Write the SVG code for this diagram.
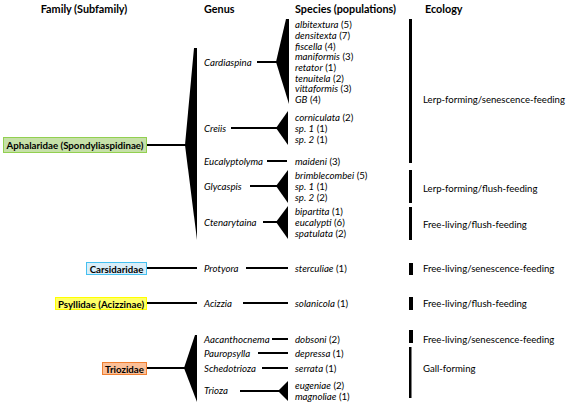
<svg xmlns="http://www.w3.org/2000/svg" width="567" height="405" viewBox="0 0 567 405">
<style>
text{font-family:Lato,"Open Sans","Liberation Sans",sans-serif;font-size:9.7px;fill:#000;dominant-baseline:central}
.h{font-weight:bold;font-size:10.8px}
.f{font-weight:bold;font-size:9.7px;text-anchor:middle}
.g{font-style:italic}
.i{font-style:italic}
.e{font-size:9.6px}
.ln{stroke:#000;stroke-width:2;fill:none}
.tri{fill:#000}
.bar{fill:#000}
</style>
<rect width="567" height="405" fill="#fff"/>
<g id="headers">
<text class="h" x="84" y="8" text-anchor="middle">Family (Subfamily)</text>
<text class="h" x="204" y="8">Genus</text>
<text class="h" x="295" y="8">Species (populations)</text>
<text class="h" x="425" y="8">Ecology</text>
</g>
<g id="connectors">
<line class="ln" x1="147" y1="145" x2="186" y2="145"/>
<polygon class="tri" points="185,145 194,48 197,48 197,240"/>
<line class="ln" x1="147" y1="268" x2="197" y2="268"/>
<line class="ln" x1="147" y1="303" x2="197" y2="303"/>
<line class="ln" x1="147" y1="368" x2="186" y2="368"/>
<polygon class="tri" points="184,368 195,335 197,335 197,402"/>
<line class="ln" x1="257" y1="62" x2="278" y2="62"/>
<polygon class="tri" points="276,62 286,19 289,19 289,104"/>
<line class="ln" x1="231" y1="128" x2="278" y2="128"/>
<polygon class="tri" points="276,128 288,111 288,145"/>
<line class="ln" x1="267" y1="161" x2="287" y2="161"/>
<line class="ln" x1="250" y1="186" x2="278" y2="186"/>
<polygon class="tri" points="276,186 288,170 288,203"/>
<line class="ln" x1="263" y1="222" x2="278" y2="222"/>
<polygon class="tri" points="276,222 288,206 288,239"/>
<line class="ln" x1="246" y1="268" x2="288" y2="268"/>
<line class="ln" x1="243" y1="303" x2="288" y2="303"/>
<line class="ln" x1="272" y1="339" x2="288" y2="339"/>
<line class="ln" x1="258" y1="353" x2="288" y2="353"/>
<line class="ln" x1="262" y1="368" x2="288" y2="368"/>
<line class="ln" x1="240" y1="391" x2="280" y2="391"/>
<polygon class="tri" points="278,391 288,381 288,401"/>
</g>
<g id="family-aphalaridae">
<rect x="3.5" y="137.5" width="143" height="15" fill="#c6e0a8" stroke="#92d050" stroke-width="1"/>
<text class="f" x="75" y="145">Aphalaridae (Spondyliaspidinae)</text>
</g>
<g id="family-carsidaridae">
<rect x="86.5" y="262.5" width="60" height="12" fill="#d9eef9" stroke="#45c0f0" stroke-width="1"/>
<text class="f" x="116.5" y="268.5">Carsidaridae</text>
</g>
<g id="family-psyllidae">
<rect x="55.5" y="297.5" width="91" height="12" fill="#ffff66" stroke="#ffff00" stroke-width="1"/>
<text class="f" x="101" y="303.5">Psyllidae (Acizzinae)</text>
</g>
<g id="family-triozidae">
<rect x="102.5" y="362.5" width="44" height="12" fill="#fbbf97" stroke="#f07f30" stroke-width="1"/>
<text class="f" x="124.5" y="368.5">Triozidae</text>
</g>
<g id="genera">
<text class="g" x="204" y="62">Cardiaspina</text>
<text class="g" x="204" y="128">Creiis</text>
<text class="g" x="204" y="161">Eucalyptolyma</text>
<text class="g" x="204" y="186">Glycaspis</text>
<text class="g" x="204" y="222">Ctenarytaina</text>
<text class="g" x="204" y="268">Protyora</text>
<text class="g" x="204" y="303">Acizzia</text>
<text class="g" x="204" y="339">Aacanthocnema</text>
<text class="g" x="204" y="353">Pauropsylla</text>
<text class="g" x="204" y="368">Schedotrioza</text>
<text class="g" x="204" y="390">Trioza</text>
</g>
<g id="species">
<text x="295" y="24"><tspan class="i">albitextura</tspan> (5)</text>
<text x="295" y="35"><tspan class="i">densitexta</tspan> (7)</text>
<text x="295" y="45.5"><tspan class="i">fiscella</tspan> (4)</text>
<text x="295" y="56"><tspan class="i">maniformis</tspan> (3)</text>
<text x="295" y="67"><tspan class="i">retator</tspan> (1)</text>
<text x="295" y="77.5"><tspan class="i">tenuitela</tspan> (2)</text>
<text x="295" y="88"><tspan class="i">vittaformis</tspan> (3)</text>
<text x="295" y="99"><tspan class="i">GB</tspan> (4)</text>
<text x="295" y="117"><tspan class="i">corniculata</tspan> (2)</text>
<text x="295" y="128"><tspan class="i">sp. 1</tspan> (1)</text>
<text x="295" y="139"><tspan class="i">sp. 2</tspan> (1)</text>
<text x="295" y="161"><tspan class="i">maideni</tspan> (3)</text>
<text x="295" y="175"><tspan class="i">brimblecombei</tspan> (5)</text>
<text x="295" y="186"><tspan class="i">sp. 1</tspan> (1)</text>
<text x="295" y="197"><tspan class="i">sp. 2</tspan> (2)</text>
<text x="295" y="211"><tspan class="i">bipartita</tspan> (1)</text>
<text x="295" y="222"><tspan class="i">eucalypti</tspan> (6)</text>
<text x="295" y="233"><tspan class="i">spatulata</tspan> (2)</text>
<text x="295" y="268"><tspan class="i">sterculiae</tspan> (1)</text>
<text x="295" y="303"><tspan class="i">solanicola</tspan> (1)</text>
<text x="295" y="339"><tspan class="i">dobsoni</tspan> (2)</text>
<text x="295" y="353"><tspan class="i">depressa</tspan> (1)</text>
<text x="295" y="368"><tspan class="i">serrata</tspan> (1)</text>
<text x="295" y="385"><tspan class="i">eugeniae</tspan> (2)</text>
<text x="295" y="396"><tspan class="i">magnoliae</tspan> (1)</text>
</g>
<g id="ecology">
<rect class="bar" x="409" y="19" width="3" height="144"/>
<text class="e" x="423" y="99">Lerp-forming/senescence-feeding</text>
<rect class="bar" x="409" y="170" width="3" height="33"/>
<text class="e" x="423" y="188">Lerp-forming/flush-feeding</text>
<rect class="bar" x="409" y="207" width="3" height="33"/>
<text class="e" x="423" y="224">Free-living/flush-feeding</text>
<rect class="bar" x="409" y="263" width="4" height="12"/>
<text class="e" x="423" y="268">Free-living/senescence-feeding</text>
<rect class="bar" x="409" y="297" width="4" height="13"/>
<text class="e" x="423" y="303">Free-living/flush-feeding</text>
<rect class="bar" x="409" y="330" width="4" height="13"/>
<text class="e" x="423" y="339">Free-living/senescence-feeding</text>
<rect class="bar" x="409" y="347" width="2.5" height="51"/>
<text class="e" x="423" y="368">Gall-forming</text>
</g>
</svg>
